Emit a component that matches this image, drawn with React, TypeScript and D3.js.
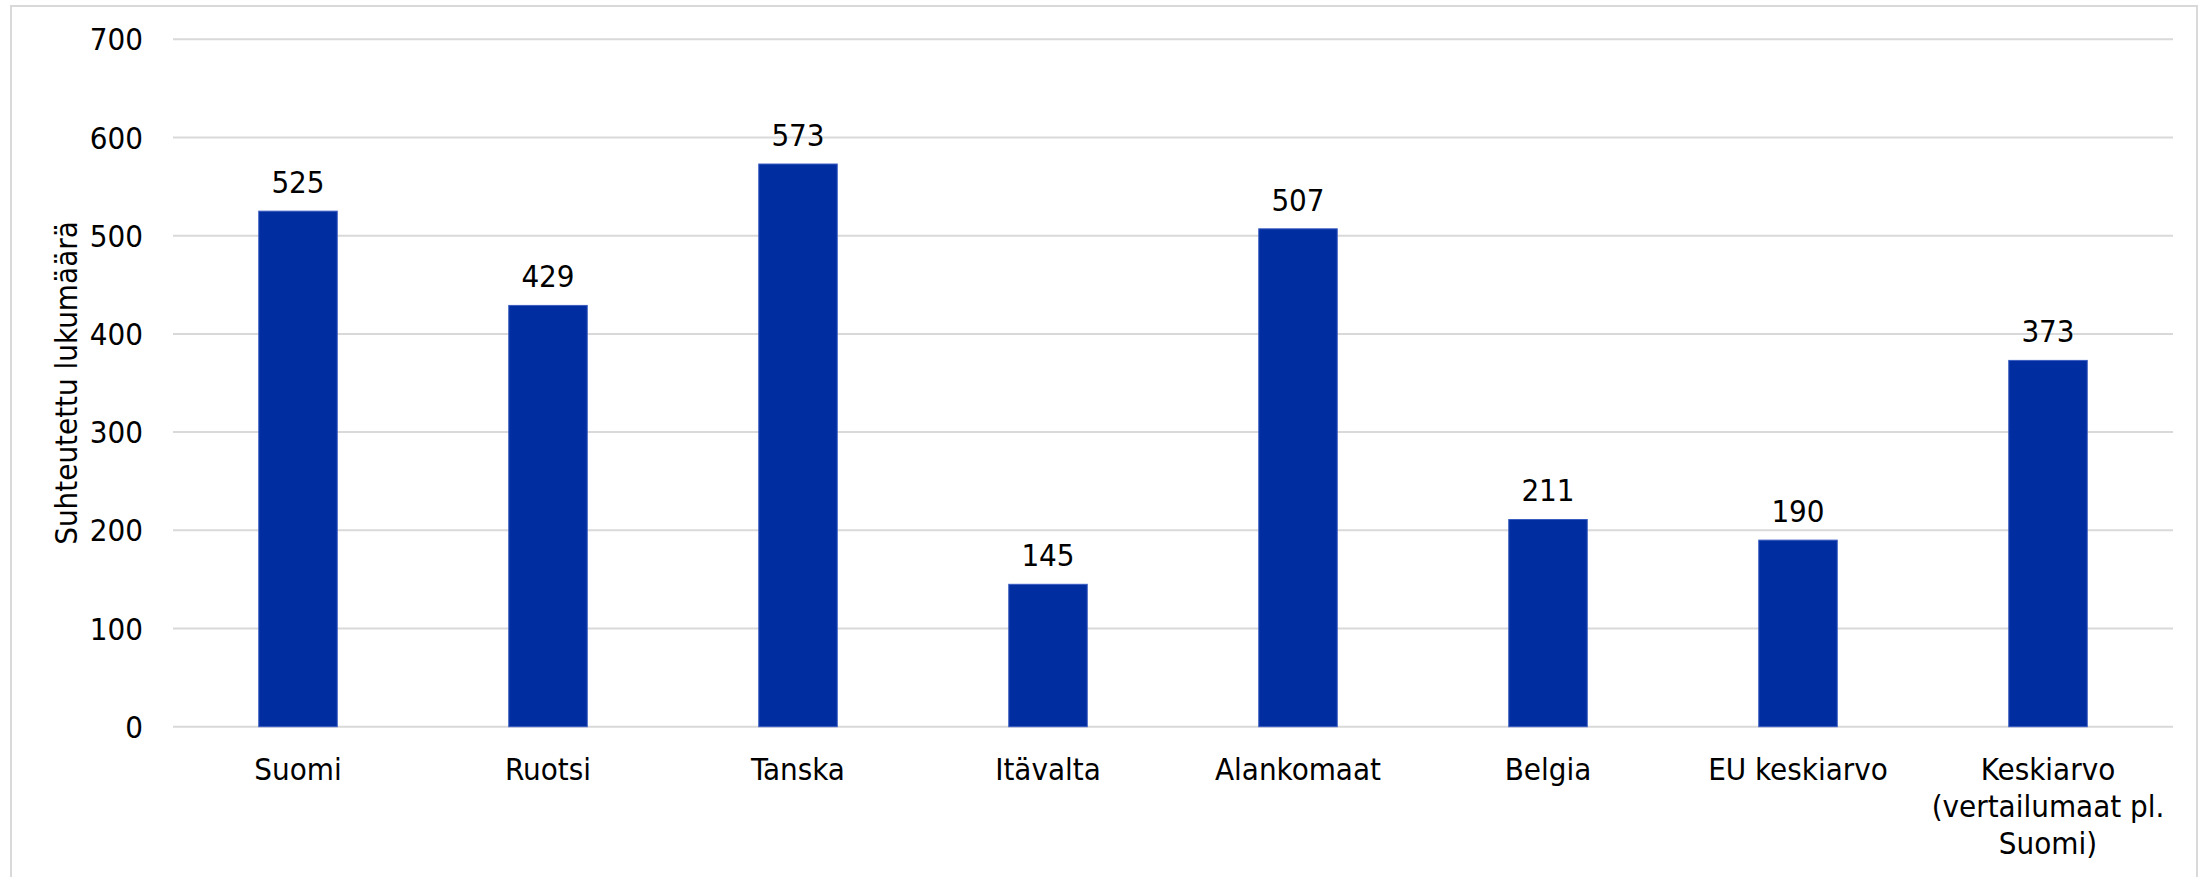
import React from "react";
import * as d3 from "d3";

const categories: string[][] = [
  ["Suomi"],
  ["Ruotsi"],
  ["Tanska"],
  ["Itävalta"],
  ["Alankomaat"],
  ["Belgia"],
  ["EU keskiarvo"],
  ["Keskiarvo", "(vertailumaat pl.", "Suomi)"],
];
const values: number[] = [525, 429, 573, 145, 507, 211, 190, 373];
const yTicks: number[] = [0, 100, 200, 300, 400, 500, 600, 700];
const yTitle = "Suhteutettu lukumäärä";

const W = 2208;
const H = 877;
const FONT = "'DejaVu Sans Condensed', 'DejaVu Sans', sans-serif";
const FS = 31;

export default function App() {
  const x = d3
    .scaleBand<number>()
    .domain(d3.range(categories.length))
    .range([173, 2173])
    .paddingInner(0.686)
    .paddingOuter(0.343);
  const y = d3.scaleLinear().domain([0, 700]).range([726.7, 39.3]);
  const bw = x.bandwidth();

  return (
    <svg
      width={W}
      height={H}
      style={{ position: "absolute", left: 0, top: 0, display: "block" }}
      fontFamily={FONT}
      fontStretch="condensed"
    >
      <rect x={0} y={0} width={W} height={H} fill="#fff" />
      <rect x={11} y={6} width={2186} height={H + 20} fill="none" stroke="#d9d9d9" strokeWidth={2} />
      {yTicks.map((t) => (
        <g key={t}>
          <line x1={173} x2={2173} y1={y(t)} y2={y(t)} stroke="#d9d9d9" strokeWidth={2} />
          <text x={143} y={y(t)} dy="0.36em" textAnchor="end" fontSize={FS} fill="#000">
            {t}
          </text>
        </g>
      ))}
      {values.map((v, i) => (
        <g key={i}>
          <rect
            x={x(i)!}
            y={y(v)}
            width={bw}
            height={y(0) - y(v)}
            fill="#002da0"
            stroke="#3a5cc0"
            strokeWidth={1}
          />
          <text x={x(i)! + bw / 2} y={y(v) - 18} textAnchor="middle" fontSize={FS} fill="#000">
            {v}
          </text>
          <text x={x(i)! + bw / 2} y={780} textAnchor="middle" fontSize={FS} fill="#000">
            {categories[i].map((line, j) => (
              <tspan key={j} x={x(i)! + bw / 2} dy={j === 0 ? 0 : 37}>
                {line}
              </tspan>
            ))}
          </text>
        </g>
      ))}
      <text
        transform={`translate(77, ${(y(0) + y(700)) / 2}) rotate(-90)`}
        textAnchor="middle"
        fontSize={FS}
        fill="#000"
      >
        {yTitle}
      </text>
    </svg>
  );
}
